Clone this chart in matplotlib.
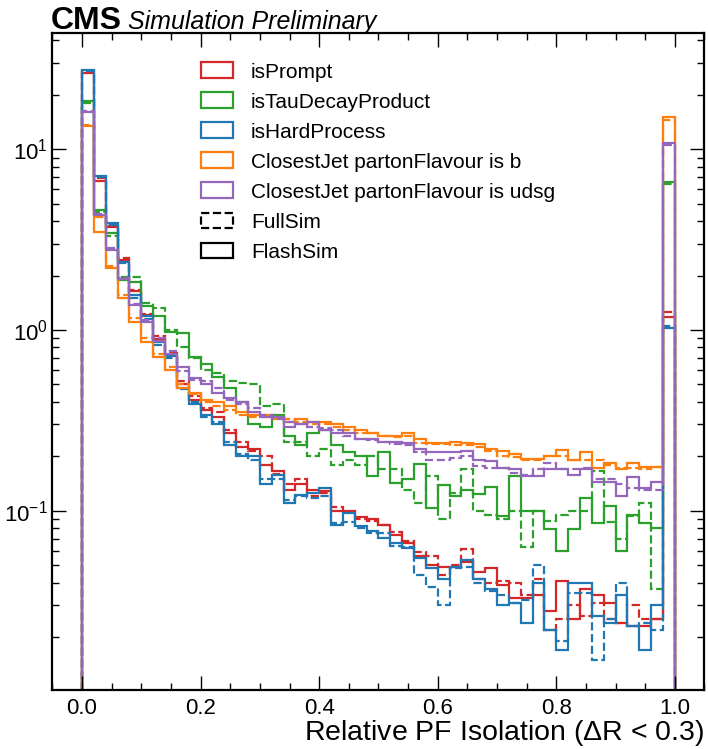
import numpy as np
import matplotlib
matplotlib.use("Agg")
import matplotlib.pyplot as plt
from matplotlib.patches import Patch

plt.rcParams['font.family'] = ['Liberation Sans', 'DejaVu Sans']
plt.rcParams['mathtext.fontset'] = 'custom'
plt.rcParams['mathtext.rm'] = 'Liberation Sans'

edges = np.linspace(0.0, 1.0, 51)

labels = ["isPrompt", "isTauDecayProduct", "isHardProcess",
          "ClosestJet partonFlavour is b", "ClosestJet partonFlavour is udsg"]
colors = ["#d62728", "#2ca02c", "#1f77b4", "#ff7f0e", "#9467bd"]

# FlashSim (solid)
prompt_flash = [26.5, 6.7, 3.7, 2.45, 1.65, 1.21, 0.89, 0.73, 0.50, 0.41,
                0.36, 0.33, 0.27, 0.225, 0.22, 0.18, 0.165, 0.13, 0.14, 0.13,
                0.128, 0.10, 0.10, 0.092, 0.09, 0.083, 0.073, 0.066, 0.056, 0.05,
                0.049, 0.049, 0.052, 0.046, 0.048, 0.039, 0.033, 0.033, 0.034, 0.028,
                0.041, 0.025, 0.037, 0.034, 0.031, 0.024, 0.023, 0.023, 0.025, 1.18]
tau_flash = [18.5, 4.6, 3.45, 1.9, 1.85, 1.36, 1.19, 0.98, 0.96, 0.71,
             0.65, 0.55, 0.48, 0.40, 0.30, 0.29, 0.34, 0.26, 0.23, 0.27,
             0.28, 0.23, 0.21, 0.20, 0.156, 0.21, 0.142, 0.15, 0.182, 0.103,
             0.138, 0.12, 0.13, 0.124, 0.136, 0.094, 0.155, 0.10, 0.10, 0.079,
             0.06, 0.079, 0.118, 0.085, 0.106, 0.06, 0.095, 0.085, 0.08, 6.6]
hard_flash = [27.3, 7.1, 3.9, 2.38, 1.56, 1.2, 0.86, 0.72, 0.48, 0.39,
              0.34, 0.30, 0.23, 0.20, 0.20, 0.14, 0.158, 0.11, 0.122, 0.125,
              0.133, 0.083, 0.097, 0.082, 0.077, 0.071, 0.066, 0.062, 0.055, 0.048,
              0.042, 0.049, 0.053, 0.042, 0.037, 0.03, 0.031, 0.024, 0.04, 0.022,
              0.017, 0.04, 0.04, 0.026, 0.024, 0.034, 0.023, 0.017, 0.03, 1.03]
bjet_flash = [13.4, 3.5, 2.2, 1.5, 1.11, 0.86, 0.71, 0.60, 0.48, 0.45,
              0.41, 0.40, 0.38, 0.35, 0.34, 0.34, 0.33, 0.31, 0.32, 0.31,
              0.31, 0.30, 0.29, 0.28, 0.27, 0.26, 0.26, 0.27, 0.25, 0.237,
              0.237, 0.24, 0.237, 0.234, 0.22, 0.215, 0.207, 0.194, 0.194, 0.20,
              0.217, 0.19, 0.21, 0.173, 0.184, 0.17, 0.184, 0.175, 0.175, 15.0]
udsg_flash = [16.0, 4.3, 2.77, 1.91, 1.37, 1.11, 0.87, 0.74, 0.62, 0.54,
              0.50, 0.45, 0.42, 0.40, 0.35, 0.33, 0.33, 0.29, 0.30, 0.31,
              0.28, 0.27, 0.27, 0.25, 0.25, 0.24, 0.24, 0.237, 0.22, 0.212,
              0.21, 0.21, 0.215, 0.19, 0.188, 0.173, 0.17, 0.155, 0.155, 0.17,
              0.17, 0.157, 0.17, 0.145, 0.145, 0.12, 0.154, 0.134, 0.145, 10.8]

# FullSim (dashed)
prompt_full = [27.0, 6.9, 3.75, 2.5, 1.66, 1.23, 0.92, 0.75, 0.52, 0.43,
               0.37, 0.35, 0.28, 0.24, 0.215, 0.20, 0.16, 0.14, 0.15, 0.12,
               0.125, 0.105, 0.098, 0.09, 0.088, 0.083, 0.076, 0.068, 0.059, 0.056,
               0.044, 0.05, 0.061, 0.042, 0.04, 0.041, 0.04, 0.034, 0.042, 0.022,
               0.025, 0.03, 0.026, 0.031, 0.025, 0.024, 0.03, 0.025, 0.025, 1.26]
tau_full = [18.0, 4.5, 3.3, 1.97, 1.96, 1.41, 1.33, 1.0, 0.8, 0.70,
            0.60, 0.58, 0.52, 0.51, 0.50, 0.38, 0.39, 0.24, 0.24, 0.20,
            0.22, 0.18, 0.19, 0.18, 0.2, 0.17, 0.17, 0.13, 0.11, 0.155,
            0.09, 0.125, 0.17, 0.10, 0.095, 0.09, 0.10, 0.063, 0.10, 0.088,
            0.095, 0.1, 0.1, 0.165, 0.087, 0.07, 0.093, 0.11, 0.037, 6.4]
hard_full = [27.0, 7.0, 3.8, 2.35, 1.5, 1.15, 0.83, 0.70, 0.47, 0.40,
             0.33, 0.31, 0.24, 0.205, 0.19, 0.15, 0.15, 0.115, 0.12, 0.117,
             0.12, 0.085, 0.087, 0.08, 0.075, 0.075, 0.064, 0.063, 0.044, 0.038,
             0.03, 0.048, 0.049, 0.04, 0.036, 0.034, 0.031, 0.032, 0.05, 0.022,
             0.019, 0.035, 0.035, 0.015, 0.025, 0.04, 0.023, 0.024, 0.022, 1.05]
bjet_full = [13.6, 4.2, 2.25, 1.56, 1.16, 0.9, 0.74, 0.62, 0.5, 0.44,
             0.40, 0.38, 0.36, 0.34, 0.33, 0.33, 0.32, 0.32, 0.31, 0.30,
             0.30, 0.29, 0.28, 0.27, 0.27, 0.26, 0.255, 0.26, 0.237, 0.235,
             0.235, 0.23, 0.23, 0.225, 0.215, 0.2, 0.197, 0.19, 0.19, 0.2,
             0.2, 0.19, 0.19, 0.19, 0.18, 0.173, 0.173, 0.17, 0.175, 14.5]
udsg_full = [16.2, 4.4, 2.85, 1.95, 1.4, 1.13, 0.9, 0.76, 0.59, 0.53,
             0.52, 0.48, 0.41, 0.39, 0.37, 0.34, 0.32, 0.31, 0.30, 0.29,
             0.285, 0.28, 0.26, 0.25, 0.245, 0.24, 0.235, 0.23, 0.21, 0.19,
             0.19, 0.195, 0.2, 0.176, 0.172, 0.172, 0.162, 0.158, 0.17, 0.183,
             0.17, 0.17, 0.173, 0.15, 0.15, 0.14, 0.134, 0.13, 0.13, 10.5]

flash = [prompt_flash, tau_flash, hard_flash, bjet_flash, udsg_flash]
full = [prompt_full, tau_full, hard_full, bjet_full, udsg_full]

fig = plt.figure(figsize=(7.08, 7.49), dpi=100)
ax = fig.add_axes([0.074, 0.079, 0.921, 0.877])

for lab, col, vf, vs in zip(labels, colors, full, flash):
    ax.stairs(vf, edges, color=col, linestyle='--', linewidth=1.6, baseline=1e-4)
    ax.stairs(vs, edges, color=col, linestyle='-', linewidth=1.6, baseline=1e-4)

ax.set_yscale('log')
ax.set_xlim(-0.05, 1.05)
ax.set_ylim(0.0102, 44)

ax.tick_params(which='both', direction='in', top=True, right=True, labelsize=16)
ax.tick_params(which='major', length=10, width=1)
ax.tick_params(which='minor', length=5, width=1)
ax.tick_params(axis='x', pad=6)
ax.xaxis.set_minor_locator(matplotlib.ticker.MultipleLocator(0.05))
for s in ax.spines.values():
    s.set_linewidth(1.6)

ax.set_xlabel(r"Relative PF Isolation ($\Delta$R < 0.3)", fontsize=20.5, loc='right',
              labelpad=-1)

handles = [Patch(facecolor='none', edgecolor=c, linewidth=1.6) for c in colors]
handles.append(Patch(facecolor='none', edgecolor='black', linestyle='--', linewidth=1.6))
handles.append(Patch(facecolor='none', edgecolor='black', linewidth=1.6))
ax.legend(handles, labels + ["FullSim", "FlashSim"], loc='upper left',
          bbox_to_anchor=(0.215, 0.968), frameon=False, fontsize=15,
          handlelength=1.55, handleheight=0.8, handletextpad=0.85,
          labelspacing=0.52, borderaxespad=0)

fig.text(0.072, 0.961, "CMS", fontsize=23, fontweight='bold', va='baseline')
fig.text(0.181, 0.961, "Simulation Preliminary", fontsize=18, style='italic', va='baseline')

fig.savefig("out.png", dpi=100)
